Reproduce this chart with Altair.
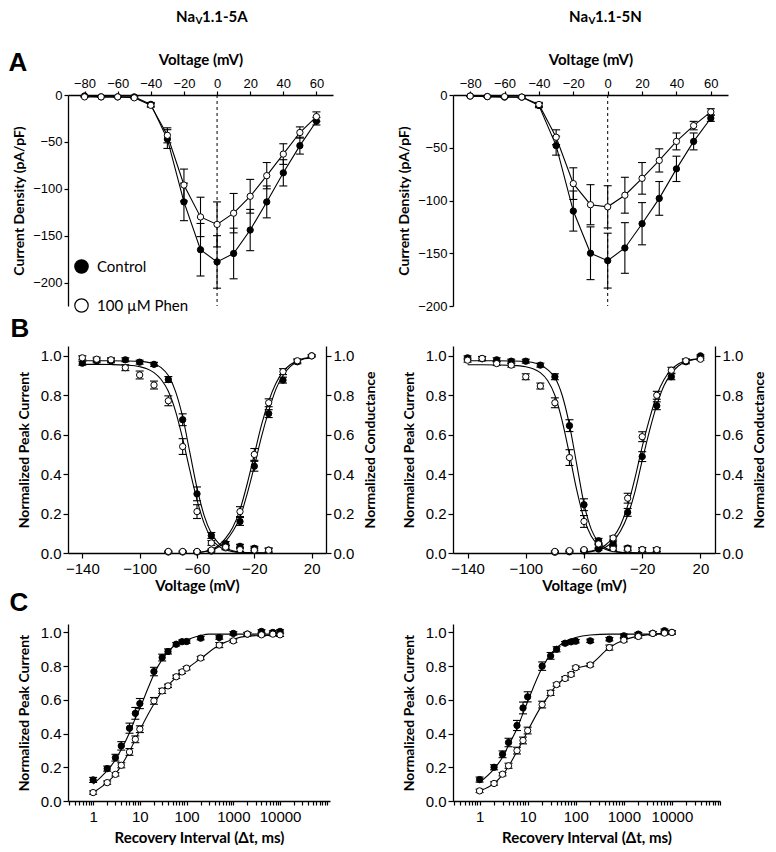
import altair as alt
import pandas as pd

# ---------------- Panel A : current-voltage ----------------
A_V = [-80, -70, -60, -50, -40, -30, -20, -10, 0, 10, 20, 30, 40, 50, 60]
A5A_CTRL = [-1, -2, -2, -2, -10, -47, -114, -165, -178, -169, -144, -114, -83, -54, -28]
A5A_CTRL_ERR = [0.5, 0.5, 0.5, 1, 2, 10, 20, 28, 28, 27, 22, 17, 14, 9, 4]
A5A_PHEN = [-2, -2, -2, -3, -11, -43, -96, -130, -138, -126, -108, -86, -63, -40, -23]
A5A_PHEN_ERR = [0.5, 0.5, 0.5, 1, 2, 8, 17, 21, 24, 21, 18, 14, 11, 6, 5]
A5N_CTRL = [-1, -1.5, -2, -2, -10, -48, -110, -150, -157, -145, -122, -98, -70, -44, -22]
A5N_CTRL_ERR = [0.5, 0.5, 0.5, 1, 2, 9, 19, 25, 26, 24, 20, 16, 12, 8, 3]
A5N_PHEN = [-1, -1.5, -1.5, -2, -9, -40, -84, -104, -106, -95, -79, -62, -44, -29, -16]
A5N_PHEN_ERR = [0.5, 0.5, 0.5, 1, 2, 7, 15, 19, 20, 17, 15, 11, 8, 4, 3]

# ---------------- Panel B : inactivation / activation ----------------
B_VI = [-140, -130, -120, -110, -100, -90, -80, -70, -60, -50, -40, -30, -20, -10]
B_VA = [-80, -70, -60, -50, -40, -30, -20, -10, 0, 10, 20]
B5A_CI = [0.963, 0.975, 0.975, 0.98, 0.968, 0.957, 0.88, 0.676, 0.30, 0.089, 0.03, 0.034, 0.024, 0.015]
B5A_CI_ERR = [0.01, 0.01, 0.01, 0.01, 0.01, 0.01, 0.015, 0.03, 0.035, 0.015, 0.01, 0.01, 0.01, 0.01]
B5A_PI = [0.99, 0.983, 0.98, 0.94, 0.903, 0.852, 0.772, 0.54, 0.21, 0.051, 0.026, 0.017, 0.015, 0.014]
B5A_PI_ERR = [0.01, 0.01, 0.01, 0.015, 0.02, 0.02, 0.025, 0.04, 0.035, 0.012, 0.01, 0.01, 0.01, 0.01]
B5A_CA = [0.005, 0.005, 0.005, 0.01, 0.048, 0.16, 0.44, 0.707, 0.877, 0.97, 1.0]
B5A_CA_ERR = [0.003, 0.003, 0.003, 0.005, 0.01, 0.02, 0.025, 0.02, 0.015, 0.01, 0.005]
B5A_PA = [0.008, 0.008, 0.008, 0.015, 0.03, 0.21, 0.50, 0.762, 0.92, 0.975, 1.0]
B5A_PA_ERR = [0.003, 0.003, 0.003, 0.005, 0.01, 0.025, 0.03, 0.02, 0.015, 0.01, 0.005]

B5N_CI = [0.99, 0.985, 0.98, 0.973, 0.973, 0.953, 0.894, 0.646, 0.245, 0.062, 0.03, 0.025, 0.017, 0.015]
B5N_CI_ERR = [0.01, 0.01, 0.01, 0.01, 0.01, 0.01, 0.015, 0.03, 0.03, 0.012, 0.01, 0.01, 0.01, 0.01]
B5N_PI = [0.978, 0.987, 0.961, 0.953, 0.894, 0.847, 0.762, 0.484, 0.16, 0.034, 0.022, 0.02, 0.017, 0.017]
B5N_PI_ERR = [0.01, 0.01, 0.01, 0.01, 0.015, 0.015, 0.025, 0.04, 0.03, 0.01, 0.01, 0.01, 0.01, 0.01]
B5N_CA = [0.004, 0.006, 0.01, 0.02, 0.05, 0.206, 0.489, 0.747, 0.894, 0.97, 1.0]
B5N_CA_ERR = [0.003, 0.003, 0.003, 0.005, 0.01, 0.02, 0.025, 0.02, 0.015, 0.01, 0.005]
B5N_PA = [0.008, 0.012, 0.017, 0.046, 0.076, 0.278, 0.59, 0.80, 0.927, 0.975, 0.983]
B5N_PA_ERR = [0.003, 0.003, 0.003, 0.005, 0.01, 0.025, 0.025, 0.02, 0.015, 0.01, 0.005]

# fitted curves
BI_CV = [-140, -130, -120, -110, -100, -95, -90, -85, -80, -75, -70, -65, -60, -55, -50, -45, -40, -35, -30, -20, -10]
B5A_CI_FIT = [0.975, 0.975, 0.975, 0.974, 0.972, 0.968, 0.96, 0.94, 0.90, 0.82, 0.69, 0.51, 0.33, 0.19, 0.10, 0.05, 0.024, 0.011, 0.005, 0.001, 0.0]
B5A_PI_FIT = [0.957, 0.957, 0.956, 0.953, 0.945, 0.935, 0.915, 0.88, 0.82, 0.72, 0.58, 0.42, 0.27, 0.15, 0.075, 0.035, 0.016, 0.007, 0.003, 0.0005, 0.0]
B5N_CI_FIT = [0.975, 0.975, 0.975, 0.974, 0.971, 0.966, 0.955, 0.93, 0.89, 0.80, 0.65, 0.45, 0.25, 0.12, 0.055, 0.024, 0.01, 0.004, 0.002, 0.0, 0.0]
B5N_PI_FIT = [0.955, 0.955, 0.954, 0.952, 0.945, 0.935, 0.915, 0.875, 0.80, 0.67, 0.50, 0.32, 0.175, 0.085, 0.04, 0.018, 0.008, 0.003, 0.001, 0.0, 0.0]
BA_CV = [-60, -55, -50, -45, -40, -35, -30, -25, -20, -15, -10, -5, 0, 5, 10, 15, 20]
B5A_CA_FIT = [0.002, 0.006, 0.014, 0.03, 0.06, 0.11, 0.18, 0.30, 0.44, 0.59, 0.72, 0.83, 0.90, 0.945, 0.97, 0.985, 0.99]
B5A_PA_FIT = [0.003, 0.008, 0.018, 0.038, 0.075, 0.13, 0.22, 0.35, 0.50, 0.65, 0.77, 0.86, 0.92, 0.955, 0.975, 0.988, 0.993]
B5N_CA_FIT = [0.003, 0.007, 0.015, 0.03, 0.06, 0.11, 0.19, 0.31, 0.47, 0.62, 0.75, 0.85, 0.91, 0.95, 0.97, 0.98, 0.985]
B5N_PA_FIT = [0.004, 0.01, 0.02, 0.042, 0.08, 0.14, 0.24, 0.38, 0.54, 0.68, 0.80, 0.88, 0.93, 0.96, 0.975, 0.982, 0.985]

# ---------------- Panel C : recovery from inactivation ----------------
C_T = [1, 2, 3, 4, 6, 8, 10, 20, 30, 40, 60, 80, 100, 200, 500, 1000, 2000, 4000, 7000, 10000]
C5A_CTRL = [0.125, 0.192, 0.257, 0.327, 0.432, 0.52, 0.578, 0.768, 0.851, 0.887, 0.93, 0.945, 0.946, 0.966, 0.97, 0.994, 0.99, 1.006, 1.0, 1.006]
C5A_CTRL_ERR = [0.015, 0.015, 0.02, 0.025, 0.03, 0.035, 0.03, 0.025, 0.02, 0.015, 0.01, 0.01, 0.01, 0.01, 0.01, 0.01, 0.01, 0.01, 0.01, 0.01]
C5A_PHEN = [0.05, 0.109, 0.158, 0.212, 0.291, 0.366, 0.426, 0.594, 0.653, 0.683, 0.737, 0.766, 0.788, 0.848, 0.925, 0.95, 0.99, 0.986, 0.99, 0.986]
C5A_PHEN_ERR = [0.01, 0.01, 0.01, 0.015, 0.02, 0.02, 0.02, 0.02, 0.015, 0.01, 0.01, 0.01, 0.01, 0.01, 0.015, 0.01, 0.01, 0.01, 0.01, 0.01]
C5N_CTRL = [0.127, 0.2, 0.277, 0.347, 0.448, 0.552, 0.618, 0.80, 0.861, 0.90, 0.936, 0.944, 0.948, 0.95, 0.96, 0.98, 0.99, 0.995, 1.01, 1.0]
C5N_CTRL_ERR = [0.015, 0.015, 0.02, 0.025, 0.03, 0.035, 0.03, 0.025, 0.02, 0.015, 0.01, 0.01, 0.01, 0.01, 0.01, 0.01, 0.01, 0.01, 0.01, 0.01]
C5N_PHEN = [0.06, 0.104, 0.159, 0.209, 0.299, 0.359, 0.418, 0.572, 0.641, 0.691, 0.727, 0.751, 0.791, 0.807, 0.91, 0.954, 0.976, 0.994, 0.996, 1.0]
C5N_PHEN_ERR = [0.01, 0.01, 0.01, 0.015, 0.02, 0.02, 0.02, 0.02, 0.015, 0.01, 0.01, 0.01, 0.01, 0.01, 0.015, 0.01, 0.01, 0.01, 0.01, 0.01]

C5A_C_T = [1, 1.5, 2, 3, 4, 6, 8, 10, 15, 20, 30, 40, 60, 100, 200, 300, 1000, 10000]
C5A_C_FIT = [0.10, 0.145, 0.18, 0.245, 0.305, 0.405, 0.49, 0.55, 0.67, 0.752, 0.84, 0.885, 0.93, 0.955, 0.982, 0.99, 0.99, 0.99]
C5A_P_T = [1, 2, 3, 4, 6, 8, 10, 20, 30, 40, 60, 80, 100, 200, 500, 1000, 2000, 4000, 10000]
C5A_P_FIT = [0.05, 0.11, 0.16, 0.21, 0.295, 0.365, 0.42, 0.575, 0.65, 0.685, 0.735, 0.765, 0.785, 0.845, 0.925, 0.96, 0.978, 0.982, 0.983]
C5N_C_T = [1, 2, 3, 4, 6, 8, 10, 20, 30, 40, 60, 100, 200, 500, 10000]
C5N_C_FIT = [0.11, 0.19, 0.26, 0.33, 0.43, 0.52, 0.59, 0.79, 0.87, 0.91, 0.945, 0.97, 0.985, 0.99, 0.99]
C5N_P_T = [1, 2, 3, 4, 6, 8, 10, 20, 30, 40, 60, 80, 100, 200, 500, 1000, 2000, 4000, 10000]
C5N_P_FIT = [0.06, 0.105, 0.155, 0.205, 0.295, 0.36, 0.415, 0.57, 0.64, 0.69, 0.725, 0.75, 0.785, 0.81, 0.91, 0.955, 0.978, 0.99, 1.0]

# column headers: "Na" + subscript "V" + rest
HEAD_MAIN = "Na"
HEAD_SUB = "V"
HEAD_A_REST = "1.1-5A"
HEAD_N_REST = "1.1-5N"
CTRL, PHEN = "Control", "100 µM Phen"

LBL_FONT = "Liberation Sans"
TTL_FONT = "Lato"

FILL_SCALE = alt.Scale(domain=[CTRL, PHEN], range=["black", "white"])


def pts_df(x, ctrl, cerr, phen, perr):
    rows = []
    for grp, vals, errs in ((CTRL, ctrl, cerr), (PHEN, phen, perr)):
        for xv, v, e in zip(x, vals, errs):
            rows.append({"x": xv, "y": v, "lo": v - e, "hi": v + e, "grp": grp})
    return pd.DataFrame(rows)


def fit_df(xc, yc, xp, yp):
    rows = [{"x": a, "y": b, "grp": CTRL} for a, b in zip(xc, yc)]
    rows += [{"x": a, "y": b, "grp": PHEN} for a, b in zip(xp, yp)]
    return pd.DataFrame(rows)


def series(df, X, ysc, yaxis=None, curves=None, interp="linear", legend=None):
    b = alt.Chart(df)

    def yn(f):
        return alt.Y(f, scale=ysc, axis=None)
    src = alt.Chart(curves) if curves is not None else b
    line = src.mark_line(color="black", strokeWidth=1.1, interpolate=interp).encode(
        x=X, y=yn("y:Q"), detail="grp:N")
    rule = b.mark_rule(color="black", strokeWidth=1.1).encode(x=X, y=yn("lo:Q"), y2="hi:Q")
    cap_lo = b.mark_tick(orient="horizontal", size=8, thickness=1.1, color="black", opacity=1).encode(
        x=X, y=yn("lo:Q"))
    cap_hi = b.mark_tick(orient="horizontal", size=8, thickness=1.1, color="black", opacity=1).encode(
        x=X, y=yn("hi:Q"))
    pts = b.mark_circle(size=40, stroke="black", strokeWidth=1, opacity=1).encode(
        x=X,
        y=alt.Y("y:Q", scale=ysc, axis=yaxis),
        fill=alt.Fill("grp:N", scale=FILL_SCALE, legend=legend),
    )
    return [line, rule, cap_lo, cap_hi, pts]


def text_layer(txt, x, y, size, weight="bold", font=LBL_FONT, align="center", baseline="middle",
               opacity=1):
    return alt.Chart(pd.DataFrame({"t": [txt]})).mark_text(
        font=font, fontSize=size, fontWeight=weight, color="black", align=align, baseline=baseline,
        opacity=opacity,
    ).encode(text="t:N", x=alt.value(x), y=alt.value(y))


def header(x_split, rest):
    return [
        text_layer(HEAD_MAIN, x_split, -73, 15, font=TTL_FONT, align="right", baseline="alphabetic"),
        text_layer(HEAD_SUB, x_split + 0.5, -71, 10, font=TTL_FONT, align="left", baseline="alphabetic"),
        text_layer(rest, x_split + 7, -73, 15, font=TTL_FONT, align="left", baseline="alphabetic"),
    ]


# ---------- A ----------
XA = alt.X("x:Q", scale=alt.Scale(domain=[-90, 70], nice=False, zero=False),
           axis=alt.Axis(orient="top", values=list(range(-80, 61, 20)), title="Voltage (mV)",
                         labelFontSize=13, titleFontSize=15, tickSize=4, labelPadding=1,
                         titlePadding=10, labelFlush=False, labelOverlap=False))


def y_a_axis():
    return alt.Axis(orient="left", values=[0, -50, -100, -150, -200], title="Current Density (pA/pF)",
                    labelFontSize=13, titleFontSize=14, tickSize=4, labelPadding=2,
                    titlePadding=6, labelFlush=False)


def zero_line(X):
    return alt.Chart(pd.DataFrame({"x": [0]})).mark_rule(
        color="black", strokeWidth=1, strokeDash=[3, 3]).encode(x=X)


legendA = alt.Legend(orient="none", legendX=6, legendY=164, title=None, direction="vertical",
                     symbolType="circle", symbolSize=180, symbolStrokeColor="black",
                     symbolStrokeWidth=1.2, symbolOpacity=1, labelFont=TTL_FONT, labelFontSize=15,
                     labelColor="black", rowPadding=20, labelOffset=8, padding=0)

ysA5A = alt.Scale(domain=[-225, 0], nice=False, zero=False)
ysA5N = alt.Scale(domain=[-200, 0], nice=False, zero=False)
dA5A = pts_df(A_V, A5A_CTRL, A5A_CTRL_ERR, A5A_PHEN, A5A_PHEN_ERR)
dA5N = pts_df(A_V, A5N_CTRL, A5N_CTRL_ERR, A5N_PHEN, A5N_PHEN_ERR)

A_left = alt.layer(
    zero_line(XA),
    *series(dA5A, XA, ysA5A, yaxis=y_a_axis(), legend=legendA),
    *header(127, HEAD_A_REST),
    text_layer("A", -50, -32, 26),
).resolve_axis(y="independent").properties(width=265, height=211)

A_right = alt.layer(
    zero_line(XA),
    *series(dA5N, XA, ysA5N, yaxis=y_a_axis(), legend=None),
    *header(135, HEAD_N_REST),
).resolve_axis(y="independent").properties(width=275, height=211)

# ---------- B ----------
XB = alt.X("x:Q", scale=alt.Scale(domain=[-150, 30], nice=False, zero=False),
           axis=alt.Axis(values=[-140, -100, -60, -20, 20], title="Voltage (mV)", labelFontSize=15,
                         titleFontSize=15, tickSize=5, labelPadding=3, titlePadding=2,
                         labelFlush=False, labelOverlap=False))
ysB = alt.Scale(domain=[0, 1.05], nice=False, zero=False)


def yb_axis(orient, title):
    kw = dict(orient=orient, values=[0, 0.2, 0.4, 0.6, 0.8, 1.0], format=".1f", title=title,
              labelFontSize=15, titleFontSize=14, tickSize=5, labelPadding=2, titlePadding=9,
              labelFlush=False)
    if orient == "right":
        kw["titleAngle"] = 270
        kw["titleBaseline"] = "top"
        kw["titlePadding"] = 10
    return alt.Axis(**kw)


def b_panel(ci, cie, pi, pie, ca, cae, pa, pae, cif, pif, caf, paf, width, letter):
    di = pts_df(B_VI, ci, cie, pi, pie)
    da = pts_df(B_VA, ca, cae, pa, pae)
    fi = fit_df(BI_CV, cif, BI_CV, pif)
    fa = fit_df(BA_CV, caf, BA_CV, paf)
    layers = series(di, XB, ysB, yaxis=yb_axis("left", "Normalized Peak Current"), curves=fi,
                    interp="monotone")
    layers += series(da, XB, ysB, yaxis=yb_axis("right", "Normalized Conductance"), curves=fa,
                     interp="monotone")
    if letter:
        layers.append(text_layer("B", -48, -17, 26))
    return alt.layer(*layers).resolve_axis(y="independent").properties(width=width, height=207)


B_left = b_panel(B5A_CI, B5A_CI_ERR, B5A_PI, B5A_PI_ERR, B5A_CA, B5A_CA_ERR, B5A_PA, B5A_PA_ERR,
                 B5A_CI_FIT, B5A_PI_FIT, B5A_CA_FIT, B5A_PA_FIT, 258, True)
B_right = b_panel(B5N_CI, B5N_CI_ERR, B5N_PI, B5N_PI_ERR, B5N_CA, B5N_CA_ERR, B5N_PA, B5N_PA_ERR,
                  B5N_CI_FIT, B5N_PI_FIT, B5N_CA_FIT, B5N_PA_FIT, 262, False)

# ---------- C ----------
LOG_TICKS = [m * 10 ** e for e in range(-1, 5) for m in range(1, 10)] + [100000]
LOG_LABELS = [1, 10, 100, 1000, 10000]


def x_c(dom):
    ticks = [t for t in LOG_TICKS if dom[0] <= t <= dom[1]]
    return alt.X("x:Q", scale=alt.Scale(type="log", domain=dom, nice=False),
                 axis=alt.Axis(values=ticks,
                               labelExpr="indexof(" + str(LOG_LABELS) + ", datum.value) >= 0 ? format(datum.value, 'd') : ''",
                               title="Recovery Interval (Δt, ms)", labelFontSize=15, titleFontSize=15,
                               tickSize=4, labelPadding=4, titlePadding=6, labelFlush=False,
                               labelOverlap=False))


def yc_axis():
    return alt.Axis(orient="left", values=[0, 0.2, 0.4, 0.6, 0.8, 1.0], format=".1f",
                    title="Normalized Peak Current", labelFontSize=15, titleFontSize=14, tickSize=5,
                    labelPadding=2, titlePadding=9, labelFlush=False)


ysC = alt.Scale(domain=[0, 1.05], nice=False, zero=False)

dC5A = pts_df(C_T, C5A_CTRL, C5A_CTRL_ERR, C5A_PHEN, C5A_PHEN_ERR)
dC5N = pts_df(C_T, C5N_CTRL, C5N_CTRL_ERR, C5N_PHEN, C5N_PHEN_ERR)
fC5A = fit_df(C5A_C_T, C5A_C_FIT, C5A_P_T, C5A_P_FIT)
fC5N = fit_df(C5N_C_T, C5N_C_FIT, C5N_P_T, C5N_P_FIT)

XC_L = x_c([0.29, 117000])
XC_R = x_c([0.28, 100000])
C_left = alt.layer(
    *series(dC5A, XC_L, ysC, yaxis=yc_axis(), curves=fC5A, interp="monotone"),
    text_layer("C", -49, -21, 26),
).resolve_axis(y="independent").properties(width=262, height=177)
C_right = alt.layer(
    *series(dC5N, XC_R, ysC, yaxis=yc_axis(), curves=fC5N, interp="monotone"),
).resolve_axis(y="independent").properties(width=267, height=177)


def spacer(h):
    return alt.Chart(pd.DataFrame({"s": [0]})).mark_point(opacity=0).encode(
        x=alt.value(0), y=alt.value(0)).properties(width=1, height=h)


chart = alt.concat(
    A_left, A_right,
    spacer(40), spacer(40),
    B_left, B_right,
    spacer(71), spacer(71),
    C_left, C_right,
    columns=2, spacing={"row": 0, "column": 120}, bounds="flush", align="each",
).resolve_scale(fill="independent").properties(
    padding={"top": 2, "left": 0, "right": 0, "bottom": 0}
).configure_view(stroke=None).configure_axis(
    domainColor="black", tickColor="black", labelColor="black", titleColor="black",
    labelFont=LBL_FONT, titleFont=TTL_FONT, titleFontWeight="bold", grid=False,
    domainWidth=1.3, tickWidth=1.2,
)

chart.save("out.html", embed_options={"renderer": "svg", "actions": False})
